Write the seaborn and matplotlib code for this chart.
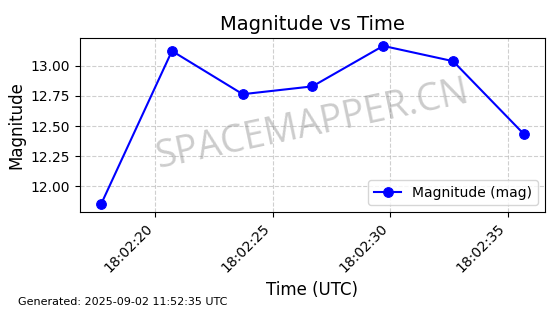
import matplotlib
matplotlib.use("Agg")
import matplotlib.pyplot as plt
import matplotlib.dates as mdates
import seaborn as sns
import pandas as pd

times = ["2025-09-02 18:02:17.71", "2025-09-02 18:02:20.72", "2025-09-02 18:02:23.73",
         "2025-09-02 18:02:26.69", "2025-09-02 18:02:29.70", "2025-09-02 18:02:32.67",
         "2025-09-02 18:02:35.68"]
magnitudes = [11.85, 13.125, 12.765, 12.83, 13.167, 13.04, 12.433]

df = pd.DataFrame({"time": pd.to_datetime(times), "mag": magnitudes})

plt.rcParams['font.family'] = ['DejaVu Sans']

fig = plt.figure(figsize=(5.6, 3.14), dpi=100)
ax = fig.add_axes([80/560, 1-212/314, 465/560, 174/314])

sns.lineplot(data=df, x="time", y="mag", ax=ax, color="blue", marker="o",
             markersize=7, markeredgecolor="blue", linewidth=1.5, label="Magnitude (mag)")

ax.set_title("Magnitude vs Time", fontsize=14)
ax.set_xlabel("Time (UTC)", fontsize=12)
ax.set_ylabel("Magnitude", fontsize=12)
ax.grid(True, linestyle="--", alpha=0.6)
ax.xaxis.set_major_formatter(mdates.DateFormatter("%H:%M:%S"))
ax.xaxis.set_major_locator(mdates.SecondLocator(bysecond=range(0, 60, 5)))
ax.yaxis.set_major_formatter(matplotlib.ticker.FormatStrFormatter("%.2f"))
plt.setp(ax.get_xticklabels(), rotation=45, ha="right")
ax.tick_params(labelsize=10)
ax.legend(loc="lower right", fontsize=10)

ax.text(0.5, 0.5, "SPACEMAPPER.CN", transform=ax.transAxes, fontsize=27,
        family="Open Sans", color="gray", alpha=0.4, rotation=12,
        ha="center", va="center")

fig.text(18/560, 1-305/314, "Generated: 2025-09-02 11:52:35 UTC", fontsize=8)

fig.savefig("out.png", dpi=100)
